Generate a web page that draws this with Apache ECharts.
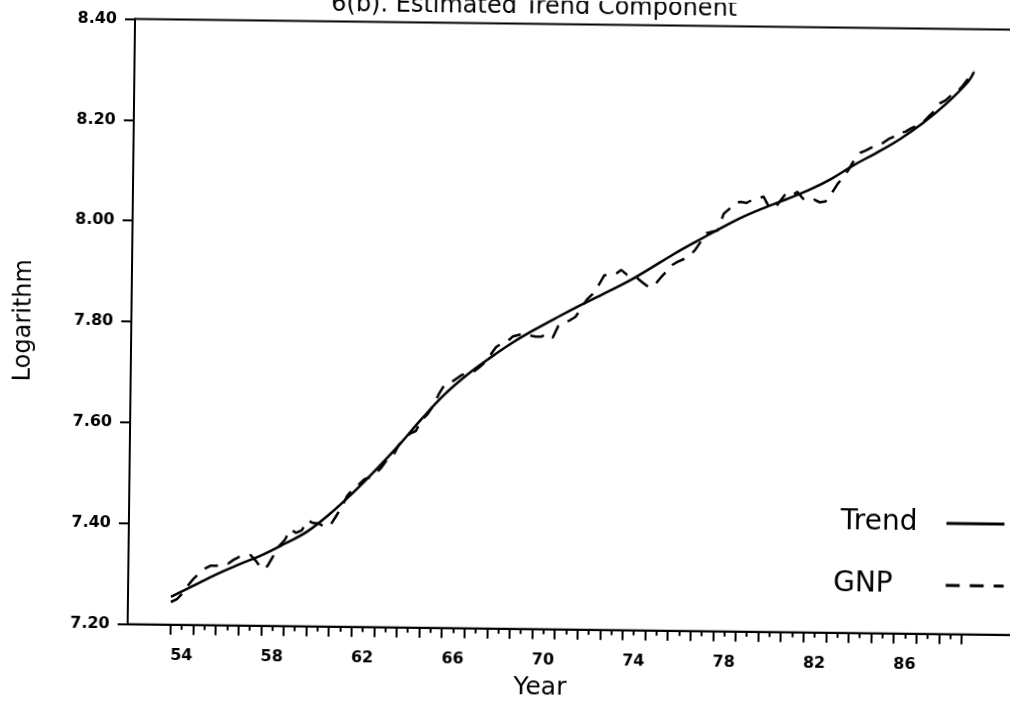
<!DOCTYPE html>
<html>
<head>
<meta charset="utf-8">
<title>6(b). Estimated Trend Component</title>
<script src="https://cdn.jsdelivr.net/npm/echarts@6/dist/echarts.min.js"></script>
<style>
html, body { margin: 0; padding: 0; background: #fff; overflow: hidden; }
/* the scanned page is turned a little clockwise */
#chart { width: 1040px; height: 704px; transform: rotate(0.7deg); transform-origin: 505px 352px; }
</style>
</head>
<body>
<div id="chart"></div>
<script>
// tick and label positions on the year axis
var major_ticks = [54, 55, 56, 57, 58, 59, 60, 61, 62, 63, 64, 65, 66, 67, 68, 69, 70, 71,
                   72, 73, 74, 75, 76, 77, 78, 79, 80, 81, 82, 83, 84, 85, 86, 87, 88, 89];
var minor_ticks = [54.5, 55.5, 56.5, 57.5, 58.5, 59.5, 60.5, 61.5, 62.5, 63.5, 64.5, 65.5,
                   66.5, 67.5, 68.5, 69.5, 70.5, 71.5, 72.5, 73.5, 74.5, 75.5, 76.5, 77.5,
                   78.5, 79.5, 80.5, 81.5, 82.5, 83.5, 84.5, 85.5, 86.5, 87.5, 88.5];
var label_years = [54, 58, 62, 66, 70, 74, 78, 82, 86];

// estimated trend (read at the start of each year)
var trend_years = [54, 55, 56, 57, 58, 59, 60, 61, 62, 63, 64, 65, 66, 67, 68, 69, 70, 71,
                   72, 73, 74, 75, 76, 77, 78, 79, 80, 81, 82, 83, 84, 85, 86, 87, 88, 89, 89.25];
var trend_values = [7.255, 7.278, 7.301, 7.321, 7.340, 7.363, 7.388, 7.424, 7.466, 7.512,
                    7.561, 7.614, 7.663, 7.703, 7.737, 7.768, 7.795, 7.820, 7.844, 7.867,
                    7.890, 7.917, 7.945, 7.971, 7.996, 8.020, 8.040, 8.058, 8.077, 8.100,
                    8.128, 8.153, 8.180, 8.212, 8.250, 8.296, 8.315];

// log GNP, one row of quarters per year
var gnp_years = [54, 55, 56, 57, 58, 59, 60, 61, 62, 63, 64, 65, 66, 67, 68, 69, 70, 71,
                 72, 73, 74, 75, 76, 77, 78, 79, 80, 81, 82, 83, 84, 85, 86, 87, 88, 89];
var gnp_values = [
    [7.245, 7.250, 7.262, 7.278],
    [7.292, 7.303, 7.312, 7.318],
    [7.318, 7.320, 7.322, 7.330],
    [7.336, 7.337, 7.340, 7.328],
    [7.312, 7.318, 7.338, 7.358],
    [7.370, 7.392, 7.385, 7.390],
    [7.410, 7.405, 7.404, 7.398],
    [7.400, 7.418, 7.437, 7.460],
    [7.473, 7.482, 7.493, 7.497],
    [7.505, 7.517, 7.533, 7.540],
    [7.562, 7.573, 7.585, 7.590],
    [7.612, 7.623, 7.640, 7.664],
    [7.683, 7.686, 7.694, 7.702],
    [7.705, 7.708, 7.717, 7.727],
    [7.742, 7.758, 7.766, 7.770],
    [7.780, 7.783, 7.786, 7.782],
    [7.780, 7.780, 7.786, 7.778],
    [7.802, 7.808, 7.813, 7.820],
    [7.838, 7.855, 7.866, 7.883],
    [7.903, 7.905, 7.906, 7.914],
    [7.905, 7.903, 7.897, 7.888],
    [7.880, 7.886, 7.900, 7.912],
    [7.925, 7.932, 7.937, 7.944],
    [7.955, 7.972, 7.989, 7.992],
    [7.995, 8.028, 8.038, 8.050],
    [8.052, 8.050, 8.056, 8.058],
    [8.063, 8.043, 8.040, 8.055],
    [8.070, 8.066, 8.073, 8.060],
    [8.055, 8.058, 8.053, 8.055],
    [8.070, 8.088, 8.103, 8.118],
    [8.138, 8.152, 8.157, 8.163],
    [8.168, 8.172, 8.180, 8.185],
    [8.193, 8.195, 8.202, 8.207],
    [8.213, 8.225, 8.236, 8.252],
    [8.258, 8.268, 8.275, 8.287],
    [8.302, 8.318]
];

function show_trend_chart(show_div_name)
{
    var chart = document.getElementById(show_div_name);
    if (chart == null) {
        throw "ERROR! getElementById() Null:" + show_div_name;
    }
    var myChart = echarts.init(chart);

    /* pair the values with their years */
    var trend_data = [];
    for (var i = 0; i < trend_years.length; i++) {
        trend_data.push([trend_years[i], trend_values[i]]);
    }
    var gnp_data = [];
    for (var i = 0; i < gnp_years.length; i++) {
        var row = gnp_values[i];
        for (var q = 0; q < row.length; q++) {
            gnp_data.push([gnp_years[i] + q * 0.25, row[q]]);
        }
    }

    var font = 'DejaVu Sans';
    var option = {
        animation: false,
        backgroundColor: '#fff',
        title: [
            {
                text: '6(b). Estimated Trend Component',
                left: 530, top: -5, padding: 0, textAlign: 'center',
                textStyle: { fontFamily: font, fontSize: 24, fontWeight: 'normal', color: '#000' }
            },
            {
                text: 'Year',
                left: 544, top: 675, padding: 0, textAlign: 'center',
                textStyle: { fontFamily: font, fontSize: 25, fontWeight: 'normal', color: '#000' }
            }
        ],
        legend: {
            data: [
                { name: 'Trend', textStyle: { padding: [0, 24, 0, 0] } },
                { name: 'GNP', textStyle: { padding: [0, 48, 0, 0] } }
            ],
            orient: 'vertical',
            right: 32, top: 503, padding: 0,
            align: 'right',
            itemWidth: 58, itemHeight: 14, itemGap: 32,
            lineStyle: { width: 3 },
            itemStyle: { opacity: 0 },
            textStyle: { fontFamily: font, fontSize: 28, lineHeight: 30, color: '#000' }
        },
        grid: {
            left: 131, top: 23.5, right: 18.6, bottom: 75.3,
            show: true, borderColor: '#000', borderWidth: 2
        },
        xAxis: [
            {
                type: 'value', position: 'bottom',
                min: 52.1, max: 91.5,
                axisLine: { show: true, onZero: false, lineStyle: { color: '#000', width: 2 } },
                axisTick: { show: true, length: 10, customValues: major_ticks,
                            lineStyle: { color: '#000', width: 2 } },
                axisLabel: { show: true, customValues: label_years, align: 'left', margin: 23,
                             color: '#000', fontFamily: font, fontWeight: 'bold', fontSize: 16 },
                splitLine: { show: false }
            },
            {
                type: 'value', position: 'bottom', offset: 0,
                min: 52.1, max: 91.5,
                axisLine: { show: false, onZero: false },
                axisTick: { show: true, length: 5, customValues: minor_ticks,
                            lineStyle: { color: '#000', width: 2 } },
                axisLabel: { show: false },
                splitLine: { show: false }
            }
        ],
        yAxis: [
            {
                type: 'value', position: 'left',
                min: 7.2, max: 8.4, interval: 0.2,
                name: 'Logarithm', nameLocation: 'middle', nameGap: 95,
                nameTextStyle: { fontFamily: font, fontSize: 24, color: '#000' },
                axisLine: { show: true, onZero: false, lineStyle: { color: '#000', width: 2 } },
                axisTick: { show: true, length: 10, lineStyle: { color: '#000', width: 2 } },
                axisLabel: { margin: 18, color: '#000', fontFamily: font, fontWeight: 'bold', fontSize: 16,
                             formatter: function (v) { return v.toFixed(2); } },
                splitLine: { show: false }
            }
        ],
        series: [
            {
                name: 'Trend', type: 'line', xAxisIndex: 0,
                data: trend_data,
                smooth: 0.4, symbol: 'none',
                lineStyle: { color: '#000', width: 2.5 },
                itemStyle: { color: '#000' }
            },
            {
                name: 'GNP', type: 'line', xAxisIndex: 0,
                data: gnp_data,
                symbol: 'none',
                lineStyle: { color: '#000', width: 2.5, type: [14, 10] },
                itemStyle: { color: '#000' }
            }
        ]
    };

    myChart.setOption(option);
}

show_trend_chart('chart');
</script>
</body>
</html>
